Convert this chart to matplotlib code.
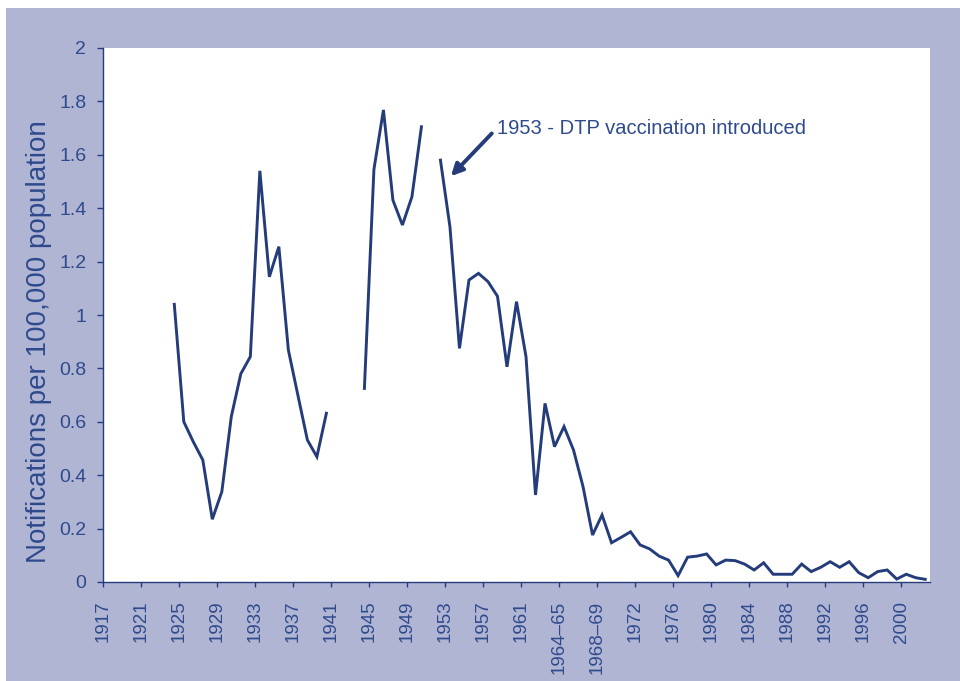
import matplotlib.pyplot as plt
import numpy as np
from matplotlib.patches import Rectangle

plt.rcParams["font.family"] = ["Liberation Sans", "DejaVu Sans"]

# category labels (one per category, every 4th one is shown)
categories = [str(y) for y in range(1917, 1964)] + [
    "1963–64", "1964–65", "1965–66", "1966–67", "1967–68", "1968–69",
    "1969–70", "1970–71", "1971–72",
] + [str(y) for y in range(1972, 2003)]

nan = np.nan
notifications = [
    nan, nan, nan, nan, nan, nan, nan,                      # 1917-1923
    1.04, 0.60, 0.525, 0.457, 0.235, 0.338, 0.62, 0.78,     # 1924-1931
    0.844, 1.54, 1.143, 1.256, 0.869, 0.70, 0.532, 0.469,   # 1932-1939
    0.632, nan, nan, nan,                                   # 1940-1943
    0.725, 1.545, 1.768, 1.43, 1.337, 1.443, 1.705, nan,    # 1944-1951
    1.58, 1.33, 0.875, 1.131, 1.156, 1.125, 1.07, 0.806,    # 1952-1959
    1.05, 0.844, 0.326, 0.669, 0.507, 0.582, 0.494, 0.357,  # 1960-1967/68
    0.176, 0.251, 0.147, 0.167, 0.188, 0.139, 0.124, 0.097, # 1968/69-1975
    0.082, 0.024, 0.093, 0.097, 0.105, 0.064, 0.082, 0.08,  # 1976-1983
    0.067, 0.045, 0.072, 0.029, 0.029, 0.029, 0.067, 0.039, # 1984-1991
    0.055, 0.076, 0.055, 0.076, 0.035, 0.016, 0.039, 0.045, # 1992-1999
    0.011, 0.029, 0.016, 0.01,                               # 2000-2002
]
notifications = np.array(notifications[: len(categories)])

bg = "#b1b5d4"
line_col = "#243c7a"
text_col = "#2e4a8c"

fig = plt.figure(figsize=(9.6, 6.81), dpi=100, facecolor="white")
fig.patches.append(
    Rectangle((6 / 960, 0), 954 / 960, 673 / 681, transform=fig.transFigure,
              facecolor=bg, edgecolor="none", zorder=-10)
)

W, H = 960, 681
left, right, top, bottom = 103, 930, 48, 582
ax = fig.add_axes([left / W, 1 - bottom / H, (right - left) / W, (bottom - top) / H])
ax.set_zorder(5)
ax.set_facecolor("white")

x = np.arange(len(categories)) + 0.5
ax.plot(x, notifications, color=line_col, lw=2.1, solid_joinstyle="miter")

ax.set_xlim(0, len(categories))
ax.set_ylim(0, 2)
ax.set_yticks(np.arange(0, 2.01, 0.2))
ax.set_yticklabels(["0", "0.2", "0.4", "0.6", "0.8", "1", "1.2", "1.4", "1.6", "1.8", "2"])
ticks = np.arange(0, len(categories), 4)
ax.set_xticks(ticks)
ax.set_xticklabels([categories[i] for i in ticks], rotation=90)

for s in ["top", "right"]:
    ax.spines[s].set_visible(False)
for s in ["left", "bottom"]:
    ax.spines[s].set_color(line_col)
    ax.spines[s].set_linewidth(1.0)

ax.tick_params(axis="y", direction="out", length=4, width=1, color=line_col,
               pad=8, labelsize=14, labelcolor=text_col)
ax.tick_params(axis="x", direction="out", length=3.5, width=1, color=line_col,
               pad=10, labelsize=13.5, labelcolor=text_col)

ax.set_ylabel("Notifications per 100,000 population", fontsize=20, color=text_col)
ax.yaxis.set_label_coords(-0.062, 0.45)

# 1953 annotation
ax.text(41.4, 1.70, "1953 - DTP vaccination introduced", fontsize=14.5,
        color=text_col, va="center", ha="left")
ax.annotate(
    "", xy=(36.6, 1.52), xytext=(40.9, 1.68),
    arrowprops=dict(arrowstyle="-|>,head_length=0.7,head_width=0.35",
                    color=line_col, lw=2.8, shrinkA=0, shrinkB=0),
)

plt.savefig("out.png", dpi=100, facecolor=fig.get_facecolor())
